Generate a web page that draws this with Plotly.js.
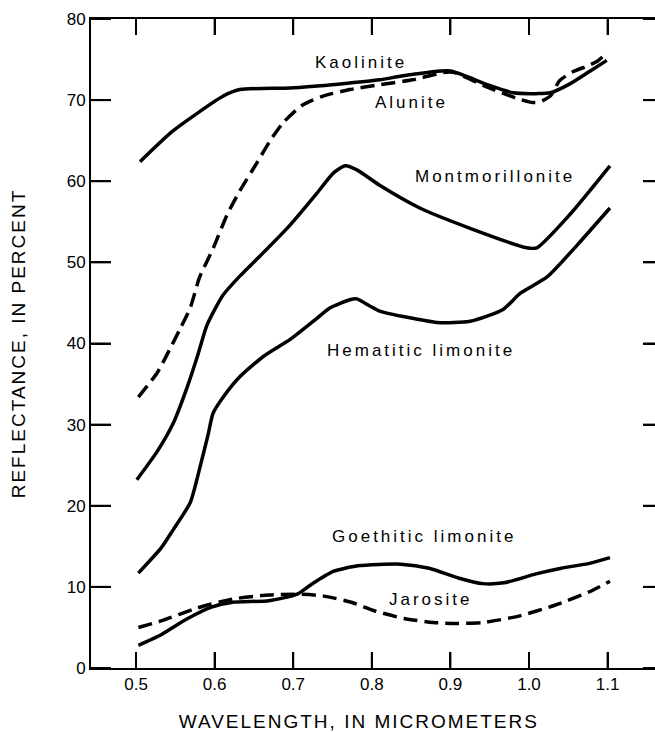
<!DOCTYPE html>
<html>
<head>
<meta charset="utf-8">
<script src="https://cdn.plot.ly/plotly-3.0.1.min.js"></script>
<style>
  html, body { margin: 0; padding: 0; overflow: hidden; background: #fff; }
  #chart { width: 680px; height: 732px; }
  .annotation-text { letter-spacing: 3px; }
  .xtitle, .ytitle { letter-spacing: 2px; }
</style>
</head>
<body>
<div id="chart"></div>
<script>
// Wavelength (micrometers) and reflectance (percent)
const kaoliniteX = [0.505, 0.547, 0.611, 0.632, 0.696, 0.760, 0.810, 0.840, 0.900, 0.947, 0.980, 1.010, 1.027, 1.052, 1.078, 1.099];
const kaoliniteY = [62.4, 66.2, 70.5, 71.3, 71.5, 72.0, 72.5, 73.0, 73.6, 71.9, 70.9, 70.8, 70.9, 72.0, 73.6, 74.9];

const aluniteX = [0.503, 0.527, 0.543, 0.556, 0.569, 0.581, 0.598, 0.616, 0.632, 0.654, 0.670, 0.687, 0.712, 0.738, 0.772, 0.810, 0.852, 0.891, 0.905, 0.947, 0.985, 1.005, 1.014, 1.027, 1.039, 1.056, 1.074, 1.087, 1.100];
const aluniteY = [33.4, 36.4, 39.3, 41.8, 44.4, 48.2, 51.7, 55.9, 58.8, 62.3, 64.9, 67.2, 69.4, 70.5, 71.3, 71.9, 72.5, 73.4, 73.4, 71.6, 70.2, 69.7, 69.8, 70.5, 72.4, 73.5, 74.2, 74.8, 75.9];

const montX = [0.501, 0.527, 0.547, 0.565, 0.578, 0.590, 0.603, 0.611, 0.632, 0.662, 0.696, 0.730, 0.751, 0.766, 0.781, 0.810, 0.861, 0.925, 0.997, 1.010, 1.052, 1.103];
const montY = [23.2, 26.7, 30.1, 34.6, 38.4, 42.2, 44.7, 46.0, 48.3, 51.2, 54.6, 58.5, 61.0, 61.9, 61.4, 59.5, 56.7, 54.2, 51.8, 51.8, 55.9, 61.9];

const hematiticX = [0.503, 0.532, 0.547, 0.569, 0.581, 0.592, 0.598, 0.611, 0.632, 0.662, 0.696, 0.730, 0.747, 0.772, 0.781, 0.798, 0.810, 0.883, 0.925, 0.967, 0.989, 1.023, 1.061, 1.103];
const hematiticY = [11.7, 14.8, 17.0, 20.4, 24.6, 28.9, 31.4, 33.4, 35.9, 38.4, 40.5, 43.1, 44.4, 45.4, 45.5, 44.6, 44.0, 42.6, 42.75, 44.2, 46.2, 48.2, 52.1, 56.7];

const goethiticX = [0.503, 0.532, 0.564, 0.596, 0.623, 0.669, 0.705, 0.723, 0.751, 0.782, 0.837, 0.873, 0.910, 0.941, 0.968, 1.009, 1.041, 1.077, 1.103];
const goethiticY = [2.8, 4.1, 6.0, 7.5, 8.1, 8.3, 9.1, 10.3, 11.9, 12.6, 12.8, 12.3, 11.1, 10.4, 10.5, 11.6, 12.3, 12.9, 13.6];

const jarositeX = [0.503, 0.532, 0.578, 0.623, 0.669, 0.705, 0.737, 0.774, 0.805, 0.841, 0.878, 0.910, 0.941, 0.987, 1.032, 1.077, 1.103];
const jarositeY = [5.0, 5.8, 7.4, 8.5, 9.0, 9.1, 8.9, 8.1, 7.0, 6.1, 5.6, 5.5, 5.6, 6.4, 7.7, 9.4, 10.7];

const xTickVals = [0.5, 0.6, 0.7, 0.8, 0.9, 1.0, 1.1];
const xTickText = ['0.5', '0.6', '0.7', '0.8', '0.9', '1.0', '1.1'];
const yTickVals = [0, 10, 20, 30, 40, 50, 60, 70, 80];

const labelNames = ['Kaolinite', 'Alunite', 'Montmorillonite', 'Hematitic limonite', 'Goethitic limonite', 'Jarosite'];
const labelX = [0.786, 0.851, 0.957, 0.863, 0.866, 0.875];
const labelY = [74.6, 69.7, 60.6, 39.1, 16.2, 8.5];

const FONT = 'Liberation Sans, Arial, Helvetica, sans-serif';
function solid() { return {color: '#000', width: 3.5, shape: 'spline', smoothing: 0.6}; }
function dashed() { return {color: '#000', width: 3.5, shape: 'spline', smoothing: 0.6, dash: '14px,7px'}; }

const traces = [
  {x: kaoliniteX, y: kaoliniteY, name: 'Kaolinite', mode: 'lines', line: solid()},
  {x: aluniteX, y: aluniteY, name: 'Alunite', mode: 'lines', line: dashed()},
  {x: montX, y: montY, name: 'Montmorillonite', mode: 'lines', line: solid()},
  {x: hematiticX, y: hematiticY, name: 'Hematitic limonite', mode: 'lines', line: solid()},
  {x: goethiticX, y: goethiticY, name: 'Goethitic limonite', mode: 'lines', line: solid()},
  {x: jarositeX, y: jarositeY, name: 'Jarosite', mode: 'lines', line: dashed()}
];

const annotations = labelNames.map((t, i) => ({
  x: labelX[i], y: labelY[i], xref: 'x', yref: 'y', text: t, showarrow: false,
  xanchor: 'center', yanchor: 'middle',
  font: {family: FONT, size: 17, color: '#000'}
}));

// Inward tick marks on all four sides, placed through the axes from the tick arrays
const tickLine = {color: '#000', width: 2};
const shapes = [];
xTickVals.forEach(function (v) {
  shapes.push({type: 'line', xref: 'x', yref: 'paper', x0: v, x1: v, ysizemode: 'pixel', yanchor: 0, y0: 0, y1: 16, line: tickLine});
  shapes.push({type: 'line', xref: 'x', yref: 'paper', x0: v, x1: v, ysizemode: 'pixel', yanchor: 1, y0: 0, y1: -16, line: tickLine});
});
yTickVals.forEach(function (v) {
  shapes.push({type: 'line', xref: 'paper', yref: 'y', y0: v, y1: v, xsizemode: 'pixel', xanchor: 0, x0: 0, x1: 20, line: tickLine});
  shapes.push({type: 'line', xref: 'paper', yref: 'y', y0: v, y1: v, xsizemode: 'pixel', xanchor: 1, x0: 0, x1: -20, line: tickLine});
});

const layout = {
  width: 680, height: 732,
  margin: {l: 91, r: 17, t: 19, b: 64},
  showlegend: false,
  xaxis: {
    range: [0.4427, 1.1705],
    tickmode: 'array', tickvals: xTickVals, ticktext: xTickText,
    ticks: 'inside', ticklen: 16, tickwidth: 2, tickcolor: '#000',
    showline: true, linewidth: 2, linecolor: '#000', mirror: 'ticks',
    showgrid: false, zeroline: false,
    tickfont: {family: FONT, size: 17, color: '#000'},
    title: {text: 'WAVELENGTH, IN MICROMETERS<span style="color:rgba(0,0,0,0)">IIIII</span>', font: {family: FONT, size: 19, color: '#000'}, standoff: 21}
  },
  yaxis: {
    range: [0, 80],
    tickmode: 'array', tickvals: yTickVals,
    ticks: 'inside', ticklen: 20, tickwidth: 2, tickcolor: '#000',
    showline: true, linewidth: 2, linecolor: '#000', mirror: 'ticks',
    showgrid: false, zeroline: false,
    tickfont: {family: FONT, size: 17, color: '#000'},
    title: {text: 'REFLECTANCE, IN PERCENT', font: {family: FONT, size: 19, color: '#000'}, standoff: 36}
  },
  annotations: annotations,
  shapes: shapes
};

Plotly.newPlot('chart', traces, layout, {displayModeBar: false, staticPlot: true});
</script>
</body>
</html>
